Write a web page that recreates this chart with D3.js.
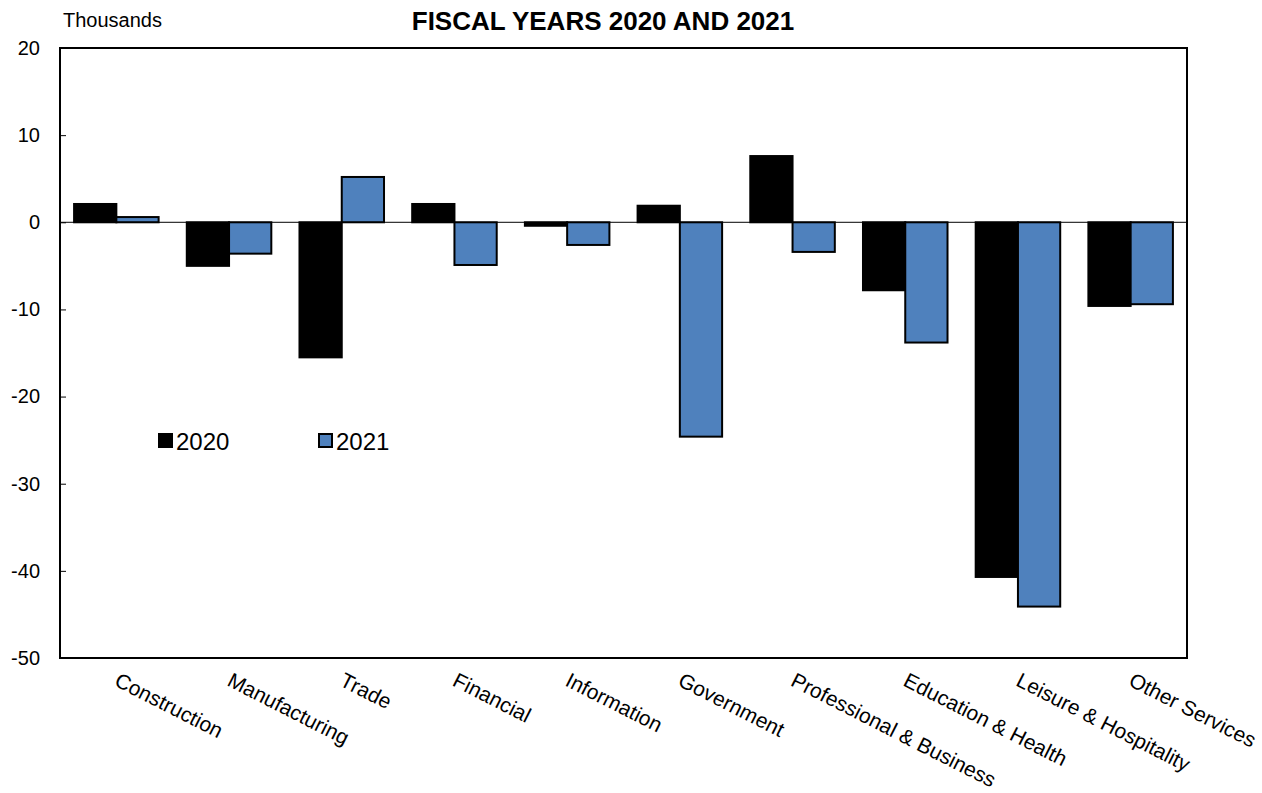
<!DOCTYPE html>
<html>
<head>
<meta charset="utf-8">
<script src="https://cdn.jsdelivr.net/npm/d3@7"></script>
<style>
  body { margin: 0; background: #fff; }
  text { font-family: "Liberation Sans", Arial, sans-serif; }
</style>
</head>
<body>
<div class="dashboard"></div>
<script>
const categories = ['Construction', 'Manufacturing', 'Trade', 'Financial', 'Information',
  'Government', 'Professional & Business', 'Education & Health', 'Leisure & Hospitality', 'Other Services'];
const values2020 = [2.1, -5.0, -15.5, 2.1, -0.4, 1.9, 7.6, -7.8, -40.7, -9.6];
const values2021 = [0.6, -3.6, 5.2, -4.9, -2.6, -24.6, -3.4, -13.8, -44.1, -9.4];
const yTicks = [20, 10, 0, -10, -20, -30, -40, -50];
const seriesNames = ['2020', '2021'];
const colors = ['#000000', '#4f81bd'];

const svgWidth = 1262,
  svgHeight = 793,
  plotLeft = 60, plotRight = 1187, plotTop = 48, plotBottom = 658;

const svg = d3.select('.dashboard')
  .append('svg')
  .attr('width', svgWidth)
  .attr('height', svgHeight);

const yScale = d3.scaleLinear()
  .domain([-50, 20])
  .range([plotBottom, plotTop]);

const xScale = d3.scaleBand()
  .domain(categories)
  .range([plotLeft, plotRight])
  .paddingInner(0.25)
  .paddingOuter(0.125);

const xSub = d3.scaleBand()
  .domain(seriesNames)
  .range([0, xScale.bandwidth()]);

const series = [values2020, values2021];

// bars
series.forEach((vals, si) => {
  svg.append('g')
    .selectAll('rect')
    .data(vals)
    .join('rect')
    .attr('x', (d, i) => xScale(categories[i]) + xSub(seriesNames[si]))
    .attr('y', d => yScale(Math.max(0, d)))
    .attr('width', xSub.bandwidth())
    .attr('height', d => Math.abs(yScale(d) - yScale(0)))
    .attr('fill', colors[si])
    .attr('stroke', '#000')
    .attr('stroke-width', 2);
});

// zero line
svg.append('line')
  .attr('x1', plotLeft).attr('x2', plotRight)
  .attr('y1', yScale(0)).attr('y2', yScale(0))
  .attr('stroke', '#000')
  .attr('stroke-width', 1);

// y axis (ticks inside the frame)
const yAxis = d3.axisRight(yScale)
  .tickValues(yTicks)
  .tickSize(6)
  .tickFormat(d => String(d));

const yg = svg.append('g')
  .attr('transform', `translate(${plotLeft}, 0)`)
  .call(yAxis);
yg.select('.domain').remove();
yg.selectAll('text')
  .attr('x', -20)
  .attr('text-anchor', 'end')
  .style('font', '20px "Liberation Sans", Arial, sans-serif')
  .attr('fill', '#000');

// frame
svg.append('rect')
  .attr('x', plotLeft).attr('y', plotTop)
  .attr('width', plotRight - plotLeft).attr('height', plotBottom - plotTop)
  .attr('fill', 'none')
  .attr('stroke', '#000')
  .attr('stroke-width', 2);

// x labels, rotated
svg.append('g')
  .selectAll('text')
  .data(categories)
  .join('text')
  .attr('transform', d => `translate(${xScale(d) + xScale.bandwidth() / 2 + 4}, 671) rotate(27)`)
  .attr('dy', '0.75em')
  .attr('text-anchor', 'start')
  .style('font-size', '21px')
  .text(d => d);

// title and unit
svg.append('text')
  .attr('x', 603).attr('y', 30)
  .attr('text-anchor', 'middle')
  .style('font-size', '26px')
  .style('font-weight', 'bold')
  .text('FISCAL YEARS 2020 AND 2021');

svg.append('text')
  .attr('x', 63).attr('y', 27)
  .style('font-size', '20px')
  .text('Thousands');

// legend
const legend = svg.append('g')
  .selectAll('g')
  .data(seriesNames)
  .join('g')
  .attr('transform', (d, i) => `translate(${159 + i * 160}, 434)`);

legend.append('rect')
  .attr('width', 13).attr('height', 13)
  .attr('fill', (d, i) => colors[i])
  .attr('stroke', '#000')
  .attr('stroke-width', 2);

legend.append('text')
  .attr('x', 17).attr('y', 16)
  .style('font-size', '24px')
  .text(d => d);
</script>
</body>
</html>
